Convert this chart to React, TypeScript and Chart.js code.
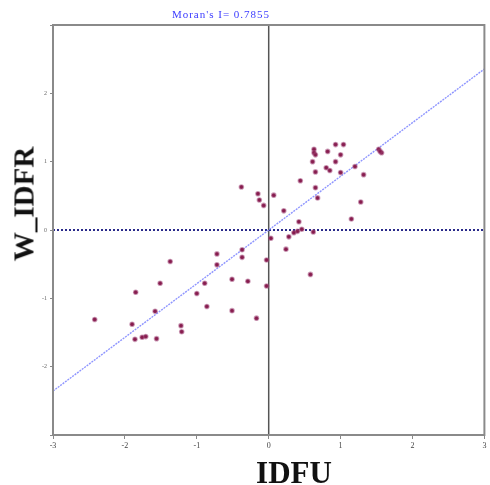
import React, { useEffect, useRef } from "react";
import { Chart, registerables } from "chart.js";

Chart.register(...registerables);

const moransI = 0.7855;
const titleText = "Moran's I= 0.7855";
const xLabel = "IDFU";
const yLabel = "W_IDFR";
const axisMin = -3;
const axisMax = 3;

const idfu = [
  0.63, 0.63, 0.65, 0.82, 0.93, 1.04, 1.0, 0.61, 0.93, 0.8, 0.85, 0.65, 1.0, 1.2, 1.32, 1.53, 1.57, 1.55,
  0.44, 0.65, 0.68, 0.07, -0.38, -0.15, -0.13, -0.07, 0.21, 1.28, 1.15, 0.42, 0.46, 0.4, 0.35, 0.62, 0.28,
  0.03, 0.24, -0.03, 0.58, -0.03, -0.37, -0.37, -0.72, -0.72, -1.37, -1.51, -1.85, -0.89, -0.51, -0.29,
  -1.0, -1.58, -0.86, -0.51, -0.17, -2.42, -1.9, -1.22, -1.21, -1.86, -1.76, -1.71, -1.56,
];
const wIdfr = [
  1.18, 1.13, 1.1, 1.15, 1.25, 1.25, 1.1, 1.0, 1.0, 0.91, 0.87, 0.85, 0.84, 0.93, 0.81, 1.18, 1.13, 1.15,
  0.72, 0.62, 0.47, 0.51, 0.63, 0.53, 0.44, 0.36, 0.28, 0.41, 0.16, 0.12, 0.01, -0.02, -0.04, -0.03, -0.1,
  -0.12, -0.28, -0.44, -0.65, -0.82, -0.29, -0.4, -0.35, -0.51, -0.46, -0.78, -0.91, -0.78, -0.72, -0.75,
  -0.93, -1.19, -1.12, -1.18, -1.29, -1.31, -1.38, -1.4, -1.49, -1.6, -1.57, -1.56, -1.59,
];

const boxPlugin = {
  id: "boxBorder",
  afterDatasetsDraw(chart: any) {
    const { ctx, chartArea } = chart;
    ctx.save();
    ctx.strokeStyle = "#8a8a8a";
    ctx.lineWidth = 2;
    ctx.strokeRect(chartArea.left, chartArea.top, chartArea.right - chartArea.left, chartArea.bottom - chartArea.top);
    ctx.restore();
  },
};

export default function App() {
  const ref = useRef<HTMLCanvasElement>(null);
  useEffect(() => {
    document.body.style.margin = "0";
    const points = idfu.map((x, i) => ({ x, y: wIdfr[i] }));
    const chart = new Chart(ref.current as HTMLCanvasElement, {
      type: "scatter",
      data: {
        datasets: [
          {
            label: "zero-x",
            type: "line",
            data: [{ x: 0, y: axisMin }, { x: 0, y: axisMax }],
            borderColor: "#555555",
            borderWidth: 1.5,
            pointRadius: 0,
            order: 4,
          },
          {
            label: "zero-y",
            type: "line",
            data: [{ x: axisMin, y: 0 }, { x: axisMax, y: 0 }],
            borderColor: "#2a2a8a",
            borderWidth: 2,
            borderDash: [2, 2],
            pointRadius: 0,
            order: 3,
          },
          {
            label: "fit",
            type: "line",
            data: [
              { x: axisMin, y: axisMin * moransI },
              { x: axisMax, y: axisMax * moransI },
            ],
            borderColor: "#8f96ff",
            borderWidth: 1.4,
            borderDash: [2, 1],
            pointRadius: 0,
            order: 2,
          },
          {
            label: "W_IDFR",
            data: points,
            pointStyle: "circle",
            pointRadius: 2,
            backgroundColor: "#861c4c",
            borderColor: "rgba(160,70,120,0.5)",
            borderWidth: 1.6,
            order: 1,
          },
        ],
      },
      options: {
        responsive: false,
        animation: false,
        layout: { padding: { top: 25, right: 4, left: 0, bottom: 0 } },
        plugins: { legend: { display: false }, tooltip: { enabled: false }, title: { display: false } },
        scales: {
          x: {
            type: "linear",
            min: axisMin,
            max: axisMax,
            ticks: { stepSize: 1, font: { size: 8, family: "Liberation Serif" }, color: "#444", padding: 2 },
            grid: { drawOnChartArea: false, drawTicks: true, tickLength: 4, color: "#888" },
            border: { color: "#8a8a8a", width: 2 },
            afterFit(scale: any) {
              scale.height = 50;
            },
          },
          y: {
            type: "linear",
            min: axisMin,
            max: axisMax,
            ticks: {
              stepSize: 1,
              font: { size: 6, family: "Liberation Serif" },
              color: "#666",
              padding: 3,
              callback: (v: any) => (Math.abs(v) === 3 ? "" : String(v)),
            },
            grid: { drawOnChartArea: false, drawTicks: true, tickLength: 3, color: "#888" },
            border: { color: "#8a8a8a", width: 2 },
            afterFit(scale: any) {
              scale.width = 53;
            },
          },
        },
      },
      plugins: [boxPlugin],
    });
    return () => chart.destroy();
  }, []);

  return (
    <div style={{ position: "absolute", left: 0, top: 0, width: 490, height: 485, background: "#fff" }}>
      <canvas ref={ref} width={490} height={485} style={{ position: "absolute", left: 0, top: 0 }} />
      <div
        style={{
          position: "absolute",
          left: 221,
          top: 14,
          transform: "translate(-50%,-50%)",
          font: "11px 'Liberation Serif'",
          letterSpacing: "1px",
          color: "#3a3aff",
          whiteSpace: "nowrap",
          lineHeight: 1,
        }}
      >
        {titleText}
      </div>
      <div
        style={{
          position: "absolute",
          left: 294,
          top: 472,
          transform: "translate(-50%,-50%)",
          font: "bold 31px 'Liberation Serif'",
          color: "#111",
          whiteSpace: "nowrap",
          lineHeight: 1,
        }}
      >
        {xLabel}
      </div>
      <div
        style={{
          position: "absolute",
          left: 24,
          top: 204,
          transform: "translate(-50%,-50%) rotate(-90deg)",
          font: "bold 29px 'Liberation Serif'",
          color: "#111",
          whiteSpace: "nowrap",
          lineHeight: 1,
        }}
      >
        {yLabel}
      </div>
    </div>
  );
}
